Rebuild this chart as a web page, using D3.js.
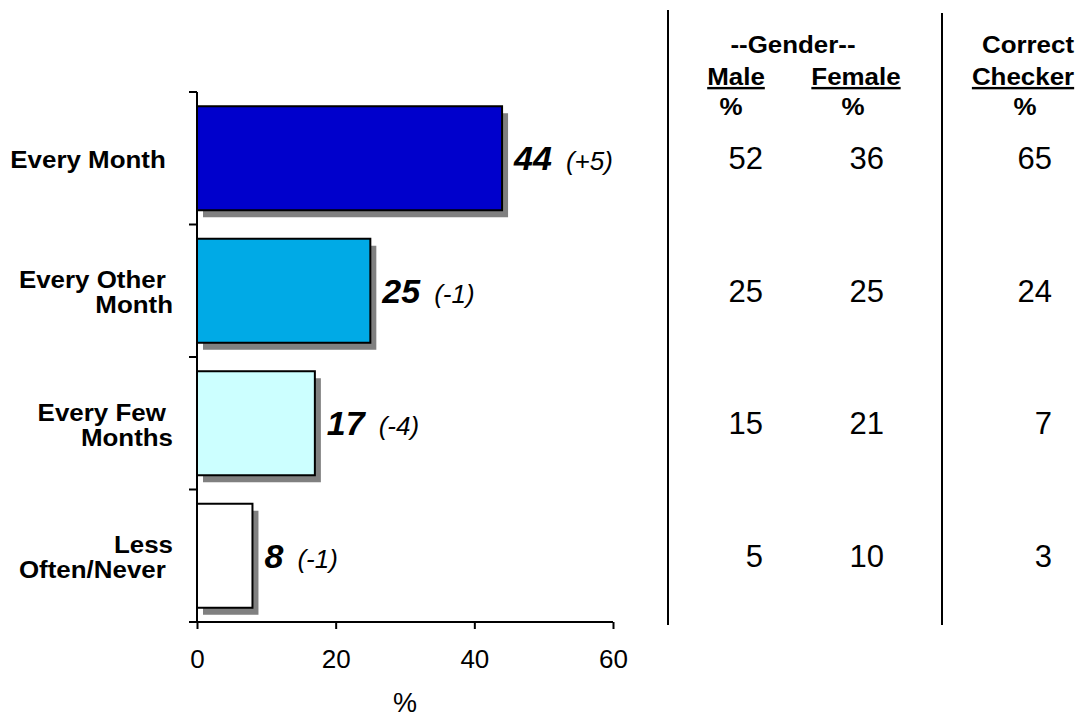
<!DOCTYPE html>
<html>
<head>
<meta charset="utf-8">
<script src="https://cdn.jsdelivr.net/npm/d3@7"></script>
<style>
  html, body { margin: 0; padding: 0; background: #fff; }
  svg { display: block; font-family: "Liberation Sans", Arial, sans-serif; }
</style>
</head>
<body>
<svg id="chart" width="1080" height="719"></svg>
<script>
// Frequency categories (each label may wrap onto two lines)
const categories = ["Every Month", "Every Other Month", "Every Few Months", "Less Often/Never"];
const categoryLines = [["Every Month "], ["Every Other ", "Month"], ["Every Few ", "Months"], ["Less", "Often/Never "]];
// Overall share (%) and change from previous wave
const totals = [44, 25, 17, 8];
const changes = ["(+5)", "(-1)", "(-4)", "(-1)"];
const barColors = ["#0000CC", "#00AAE6", "#CCFFFF", "#FFFFFF"];
// Breakdown columns
const maleVals = [52, 25, 15, 5];
const femaleVals = [36, 25, 21, 10];
const checkerVals = [65, 24, 7, 3];
// X axis ticks
const xTicks = [0, 20, 40, 60];

const svg = d3.select("#chart");
const WIDEN = 1.08; // slightly wide lettering

const x = d3.scaleLinear().domain([0, 60]).range([197, 613]);
const y = d3.scaleBand().domain(categories).range([92, 622])
  .paddingInner(0.215).paddingOuter(0.1075);

const step = y.step();

// Helper: horizontally widened text anchored at (px, py)
function wideText(parent, px, py) {
  return parent.append("g")
    .attr("transform", `translate(${px},${py}) scale(${WIDEN},1)`)
    .append("text")
    .attr("x", 0).attr("y", 0);
}

// Drop shadows behind bars
svg.append("g").selectAll("rect")
  .data(categories)
  .join("rect")
  .attr("x", x(0) + 6)
  .attr("y", d => y(d) + 7)
  .attr("width", (d, i) => x(totals[i]) - x(0))
  .attr("height", y.bandwidth())
  .attr("fill", "#808080");

// Bars
svg.append("g").selectAll("rect")
  .data(categories)
  .join("rect")
  .attr("x", x(0))
  .attr("y", d => y(d))
  .attr("width", (d, i) => x(totals[i]) - x(0))
  .attr("height", y.bandwidth())
  .attr("fill", (d, i) => barColors[i])
  .attr("stroke", "#000")
  .attr("stroke-width", 2);

// Y axis: line with ticks at category boundaries
const yAxisG = svg.append("g");
yAxisG.append("line")
  .attr("x1", x(0)).attr("x2", x(0))
  .attr("y1", y.range()[0]).attr("y2", y.range()[1])
  .attr("stroke", "#000").attr("stroke-width", 2);
const boundaries = d3.range(categories.length + 1).map(i => y.range()[0] + i * step);
yAxisG.selectAll("line.tick")
  .data(boundaries)
  .join("line")
  .attr("class", "tick")
  .attr("x1", x(0) - 8).attr("x2", x(0))
  .attr("y1", d => d).attr("y2", d => d)
  .attr("stroke", "#000").attr("stroke-width", 2);

// X axis
const xAxis = d3.axisBottom(x).tickValues(xTicks).tickSize(7).tickPadding(21).tickSizeOuter(0);
const xg = svg.append("g")
  .attr("transform", `translate(0,${y.range()[1]})`)
  .call(xAxis);
xg.select(".domain").attr("stroke", "#000").attr("stroke-width", 2)
  .attr("d", `M${x(0) - 6},0H${x(60)}`);
xg.selectAll(".tick line").attr("stroke", "#000").attr("stroke-width", 2);
xg.selectAll(".tick text")
  .attr("font-size", 26)
  .attr("font-family", "Liberation Sans, Arial, sans-serif")
  .attr("fill", "#000");

svg.append("text")
  .attr("x", 405).attr("y", 712)
  .attr("text-anchor", "middle")
  .attr("font-size", 27)
  .text("%");

// Category labels
const labelG = svg.append("g");
categories.forEach((c, i) => {
  const lines = categoryLines[i];
  const cy = y(c) + y.bandwidth() / 2;
  const lh = 25;
  lines.forEach((ln, j) => {
    wideText(labelG, 173, cy + 10 + (j - (lines.length - 1) / 2) * lh)
      .attr("text-anchor", "end")
      .attr("font-size", 24)
      .attr("font-weight", "bold")
      .style("white-space", "pre")
      .text(ln);
  });
});

// Value labels with change
const valG = svg.append("g");
categories.forEach((c, i) => {
  const cy = y(c) + y.bandwidth() / 2;
  const t = valG.append("text")
    .attr("x", x(totals[i]) + 12)
    .attr("y", cy + 12);
  t.append("tspan")
    .attr("font-size", 34)
    .attr("font-weight", "bold")
    .attr("font-style", "italic")
    .text(totals[i]);
  t.append("tspan")
    .attr("dx", 14)
    .attr("font-size", 26)
    .attr("font-style", "italic")
    .text(changes[i]);
});

// Table separators
svg.append("line").attr("x1", 668).attr("x2", 668).attr("y1", 10).attr("y2", 625)
  .attr("stroke", "#000").attr("stroke-width", 2);
svg.append("line").attr("x1", 942).attr("x2", 942).attr("y1", 13).attr("y2", 625)
  .attr("stroke", "#000").attr("stroke-width", 2);

// Table headers
const hdr = svg.append("g");
function header(px, py, str, underline) {
  const t = wideText(hdr, px, py)
    .attr("text-anchor", "middle")
    .attr("font-size", 24)
    .attr("font-weight", "bold")
    .text(str);
  if (underline) t.attr("text-decoration", "underline");
}
header(793, 53, "--Gender--");
header(736, 85, "Male", true);
header(856, 85, "Female", true);
header(731, 115, "%");
header(853, 115, "%");
header(1028, 53, "Correct");
header(1023, 85, "Checker", true);
header(1025, 115, "%");

// Table values
const cols = [
  { vals: maleVals, xr: 763 },
  { vals: femaleVals, xr: 884 },
  { vals: checkerVals, xr: 1052 }
];
const tbl = svg.append("g").attr("font-size", 31).attr("text-anchor", "end");
cols.forEach(col => {
  tbl.selectAll(null)
    .data(col.vals)
    .join("text")
    .attr("x", col.xr)
    .attr("y", (d, i) => y(categories[i]) + y.bandwidth() / 2 + 11)
    .text(d => d);
});
</script>
</body>
</html>
